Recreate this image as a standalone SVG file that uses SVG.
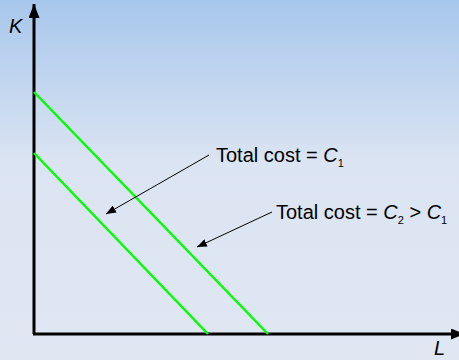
<svg xmlns="http://www.w3.org/2000/svg" width="459" height="360" viewBox="0 0 459 360">
<defs>
<linearGradient id="bg" x1="0" y1="0" x2="0" y2="1">
<stop offset="0" stop-color="#a7c7ec"/>
<stop offset="0.45" stop-color="#dbe4f2"/>
<stop offset="1" stop-color="#e0e7f3"/>
</linearGradient>
<marker id="ah" viewBox="0 0 10 8" refX="10" refY="4" markerWidth="10" markerHeight="8" markerUnits="userSpaceOnUse" orient="auto">
<path d="M0,0 L10,4 L0,8 Z" fill="#000"/>
</marker>
<marker id="axh" viewBox="0 0 14 11" refX="14" refY="5.5" markerWidth="14" markerHeight="11" markerUnits="userSpaceOnUse" orient="auto">
<path d="M0,0 L14,5.5 L0,11 Z" fill="#000"/>
</marker>
</defs>
<style>
.axis{stroke:#000;stroke-width:3;fill:none}
.cost{stroke:#00ff00;stroke-width:2.5;fill:none}
.lead{stroke:#000;stroke-width:1;fill:none}
text{font-family:"Liberation Sans",Arial,sans-serif;font-size:20px;fill:#000}
.it{font-style:italic}
.sub{font-size:11px}
</style>
<rect width="459" height="360" fill="url(#bg)"/>
<g id="axes">
<line class="axis" x1="34" y1="334" x2="34" y2="4" marker-end="url(#axh)"/>
<line class="axis" x1="33" y1="334" x2="465" y2="334" marker-end="url(#axh)"/>
<text class="it" x="9" y="33">K</text>
<text class="it" x="434" y="355">L</text>
</g>
<g id="isocost-c1">
<line class="cost" x1="34" y1="153" x2="208" y2="334"/>
</g>
<g id="isocost-c2">
<line class="cost" x1="34" y1="92" x2="268" y2="334"/>
</g>
<g id="connectors">
<line class="lead" x1="209" y1="155" x2="106" y2="214" marker-end="url(#ah)"/>
<line class="lead" x1="272" y1="212" x2="197" y2="247" marker-end="url(#ah)"/>
</g>
<g id="label-c1">
<text x="216" y="162">Total cost = <tspan class="it">C</tspan><tspan class="sub" dy="5">1</tspan></text>
</g>
<g id="label-c2">
<text x="276" y="219">Total cost = <tspan class="it">C</tspan><tspan class="sub" dy="5">2</tspan><tspan dy="-5"> &gt; </tspan><tspan class="it">C</tspan><tspan class="sub" dy="5">1</tspan></text>
</g>
</svg>
